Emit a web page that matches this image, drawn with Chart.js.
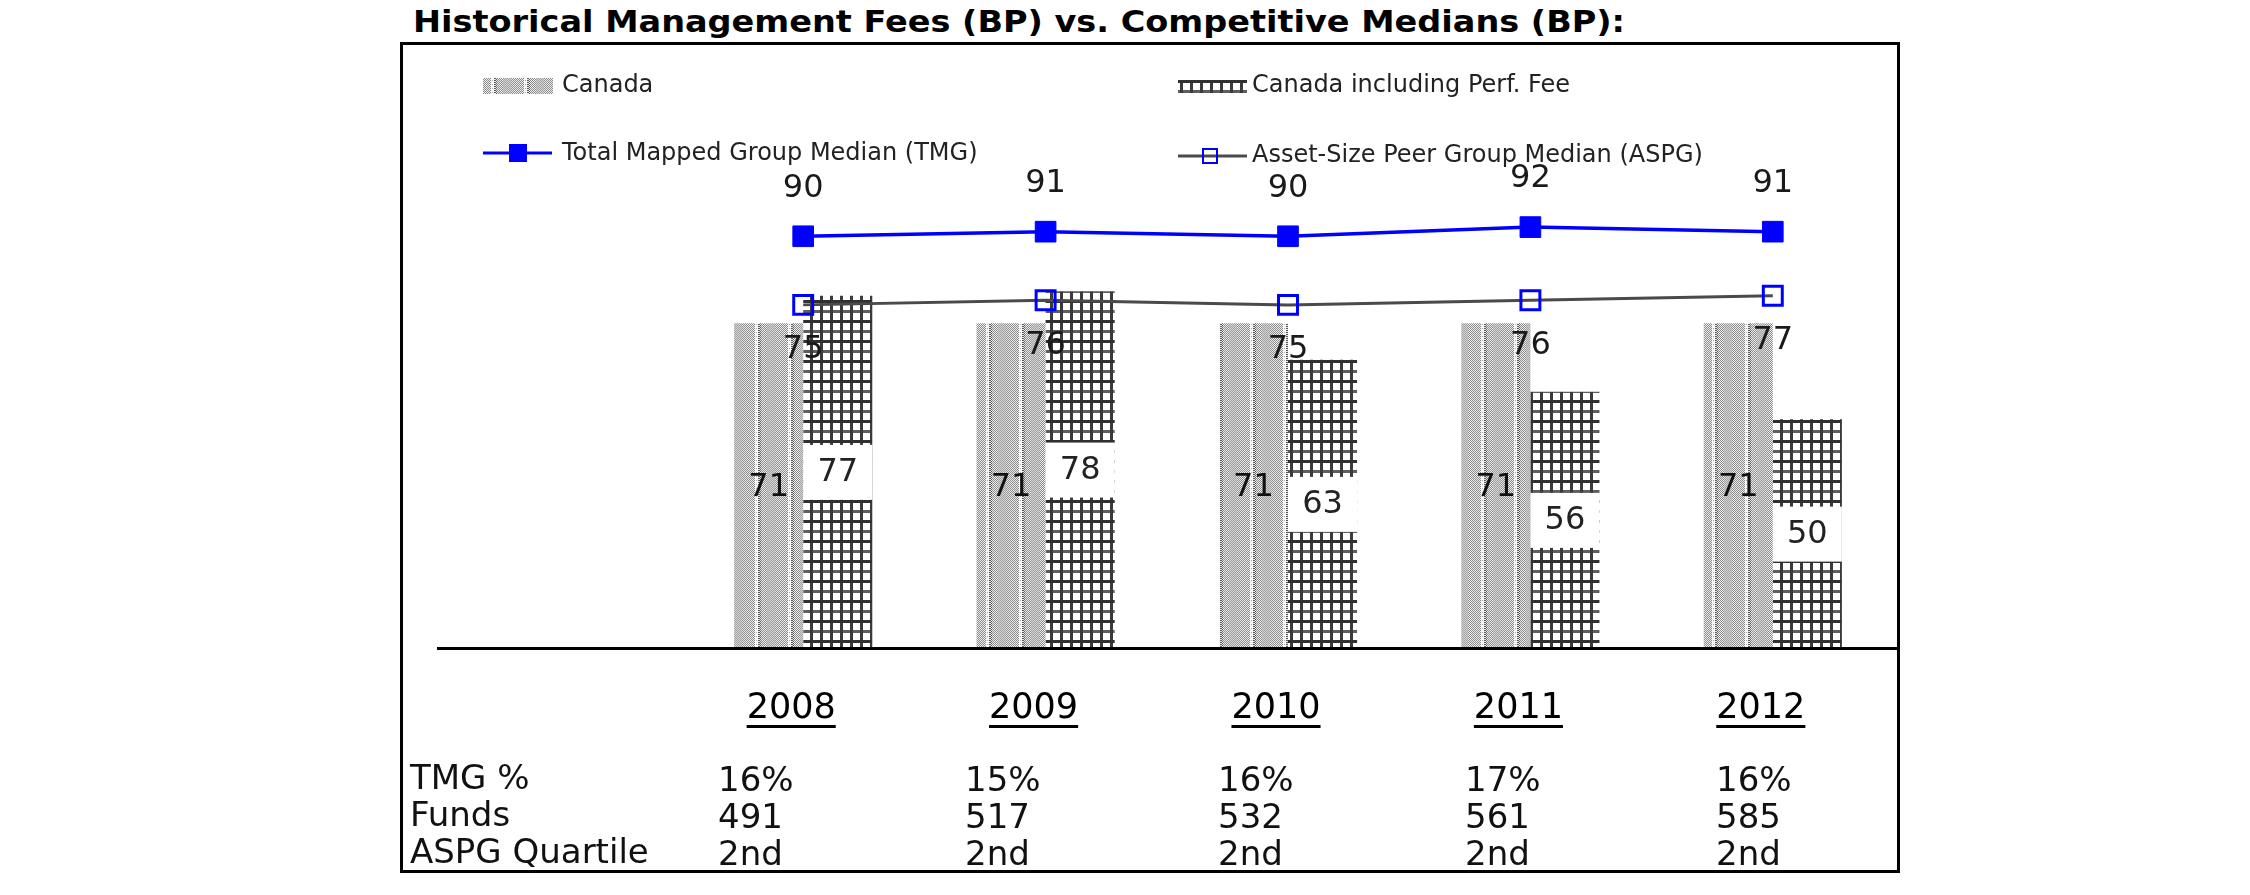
<!DOCTYPE html>
<html>
<head>
<meta charset="utf-8">
<script src="https://cdn.jsdelivr.net/npm/chart.js@4/dist/chart.umd.min.js"></script>
<style>
html,body{margin:0;padding:0;background:#fff;}
#wrap{position:relative;width:2250px;height:895px;overflow:hidden;background:#fff;}
#box{position:absolute;left:400px;top:42px;width:1500px;height:831px;border:3px solid #000;box-sizing:border-box;}
#c{position:absolute;left:0;top:0;}
.t{position:absolute;font-family:"DejaVu Sans",sans-serif;white-space:nowrap;color:#000;}
#title{left:413px;top:6px;font-size:31px;line-height:31px;font-weight:bold;transform-origin:0 50%;}
.row{font-size:34px;line-height:34px;color:#111;}
</style>
</head>
<body>
<div id="wrap">
  <div id="box"></div>
  <div id="title" class="t">Historical Management Fees (BP) vs. Competitive Medians (BP):</div>
  <canvas id="c" width="2250" height="895"></canvas>
  <div id="table"></div>
</div>
<script>
// ---- data ----
const years = ['2008', '2009', '2010', '2011', '2012'];
const canada = [71, 71, 71, 71, 71];
const canadaPerf = [77, 78, 63, 56, 50];
const tmgMedian = [90, 91, 90, 92, 91];
const aspgMedian = [75, 76, 75, 76, 77];
const rowLabels = ['TMG %', 'Funds', 'ASPG Quartile'];
const tmgPct = ['16%', '15%', '16%', '17%', '16%'];
const funds = ['491', '517', '532', '561', '585'];
const aspgQuartile = ['2nd', '2nd', '2nd', '2nd', '2nd'];

// ---- title: stretch to the reference width ----
const titleEl = document.getElementById('title');
const tw = titleEl.getBoundingClientRect().width;
titleEl.style.transform = 'scaleX(' + (1212 / tw) + ')';

// ---- table below the chart (HTML text) ----
const tableRows = [tmgPct, funds, aspgQuartile];
const rowTops = [760, 797, 834];
const colLefts = [718, 965, 1218, 1465, 1716];
const tbl = document.getElementById('table');
rowLabels.forEach((lab, r) => {
  const d = document.createElement('div');
  d.className = 't row';
  d.style.left = '410px';
  d.style.top = rowTops[r] + 'px';
  d.textContent = lab;
  tbl.appendChild(d);
  tableRows[r].forEach((v, i) => {
    const e = document.createElement('div');
    e.className = 't row';
    e.style.left = colLefts[i] + 'px';
    e.style.top = (rowTops[r] + 2) + 'px';
    e.textContent = v;
    tbl.appendChild(e);
  });
});

// ---- patterns ----
function makePatA() {
  const W = 33, H = 8;
  const c = document.createElement('canvas');
  c.width = W; c.height = H;
  const g = c.getContext('2d');
  for (let y = 0; y < H; y++) {
    for (let x = 0; x < W; x++) {
      const dot = (x + y) % 2 === 0;
      let col;
      if (x >= 29 && x < 32) {
        col = dot && (y % 4 === 0) ? '#b0b0b0' : '#f7f7f7';
      } else if (x < 2 || x === 32) {
        col = dot ? '#5a5a5a' : '#e6e6e6';
      } else if (x >= 8 && x < 16) {
        col = dot ? '#a4a4a4' : '#d2d2d2';
      } else {
        col = dot ? '#8a8a8a' : '#eeeeee';
      }
      g.fillStyle = col;
      g.fillRect(x, y, 1, 1);
    }
  }
  return g.createPattern(c, 'repeat');
}
function makePatB() {
  const c = document.createElement('canvas');
  c.width = 10; c.height = 20;
  const g = c.getContext('2d');
  g.fillStyle = '#ffffff'; g.fillRect(0, 0, 10, 20);
  g.fillStyle = '#3a3a3a'; g.fillRect(0, 0, 3, 20);
  g.fillStyle = '#303030'; g.fillRect(0, 0, 10, 3);
  g.fillStyle = '#5e5e5e'; g.fillRect(0, 10, 10, 3);
  g.fillStyle = '#3a3a3a'; g.fillRect(0, 10, 3, 3);
  return g.createPattern(c, 'repeat');
}
const patA = makePatA();
const patB = makePatB();

const FONT = '"DejaVu Sans", sans-serif';
const LABEL_OFFSET = -12;

// ---- plugins ----
const baselinePlugin = {
  id: 'baseline',
  afterDatasetsDraw(chart) {
    const ctx = chart.ctx;
    const y0 = chart.scales.y.getPixelForValue(0);
    ctx.save();
    ctx.fillStyle = '#000';
    ctx.fillRect(437, Math.round(y0) - 1, chart.chartArea.right + 4 - 437, 3);
    ctx.restore();
  }
};

const valueLabels = {
  id: 'valueLabels',
  afterDatasetsDraw(chart) {
    const ctx = chart.ctx;
    ctx.save();
    ctx.textAlign = 'center';
    ctx.textBaseline = 'middle';
    chart.data.datasets.forEach((ds, di) => {
      const meta = chart.getDatasetMeta(di);
      meta.data.forEach((el, i) => {
        const v = ds.data[i];
        if (ds.labelMode === 'above') {
          ctx.font = '32px ' + FONT; ctx.fillStyle = '#1a1a1a';
          ctx.fillText(String(v), el.x, el.y - 48);
        } else if (ds.labelMode === 'below') {
          ctx.font = '32px ' + FONT; ctx.fillStyle = '#1a1a1a';
          ctx.fillText(String(v), el.x, el.y + 45);
        } else if (ds.labelMode === 'mid') {
          ctx.font = '32px ' + FONT; ctx.fillStyle = '#111';
          ctx.fillText(String(v), el.x, (el.y + el.base) / 2 + 2);
        } else if (ds.labelMode === 'midbox') {
          const cy = (el.y + el.base) / 2;
          ctx.fillStyle = '#fff';
          ctx.fillRect(el.x - el.width / 2, cy - 27, el.width, 55);
          ctx.font = '32px ' + FONT; ctx.fillStyle = '#222';
          ctx.fillText(String(v), el.x, cy + 1);
        }
      });
    });
    ctx.restore();
  }
};

const underlinePlugin = {
  id: 'underline',
  afterDraw(chart) {
    const ctx = chart.ctx;
    const xs = chart.scales.x;
    ctx.save();
    ctx.font = '35px ' + FONT;
    ctx.fillStyle = '#000';
    xs.ticks.forEach((t, i) => {
      const lab = chart.data.labels[i];
      const w = ctx.measureText(lab).width;
      const x = xs.getPixelForTick(i) + LABEL_OFFSET;
      ctx.fillRect(x - w / 2, 725, w, 3);
    });
    ctx.restore();
  }
};

const customLegend = {
  id: 'customLegend',
  afterDraw(chart) {
    const ctx = chart.ctx;
    const ds = chart.data.datasets;
    ctx.save();
    ctx.font = '24px ' + FONT;
    ctx.textBaseline = 'middle';
    ctx.textAlign = 'left';
    // Canada
    ctx.fillStyle = patA; ctx.fillRect(483, 78, 70, 16);
    ctx.fillStyle = '#222'; ctx.fillText(ds[2].label, 562, 86);
    // Canada incl perf
    ctx.fillStyle = patB; ctx.fillRect(1178, 80, 69, 13);
    ctx.fillStyle = '#222'; ctx.fillText(ds[3].label, 1252, 86);
    // TMG
    ctx.strokeStyle = '#0000ff'; ctx.lineWidth = 3;
    ctx.beginPath(); ctx.moveTo(483, 153); ctx.lineTo(552, 153); ctx.stroke();
    ctx.fillStyle = '#0000ff'; ctx.fillRect(509, 144, 18, 18);
    ctx.fillStyle = '#222'; ctx.fillText(ds[0].label, 562, 154);
    // ASPG
    ctx.strokeStyle = '#4a4a4a'; ctx.lineWidth = 3;
    ctx.beginPath(); ctx.moveTo(1178, 156); ctx.lineTo(1247, 156); ctx.stroke();
    ctx.strokeStyle = '#0000ff'; ctx.lineWidth = 2;
    ctx.strokeRect(1203, 149, 14, 14);
    ctx.fillStyle = '#222'; ctx.fillText(ds[1].label, 1252, 156);
    ctx.restore();
  }
};

new Chart(document.getElementById('c'), {
  type: 'bar',
  data: {
    labels: years,
    datasets: [
      {
        type: 'line', label: 'Total Mapped Group Median (TMG)', data: tmgMedian,
        borderColor: '#0000ff', borderWidth: 3.5, tension: 0, fill: false,
        pointStyle: 'rect', pointRadius: 14.6, pointBackgroundColor: '#0000ff',
        pointBorderColor: '#0000ff', pointBorderWidth: 1, order: 1, labelMode: 'above'
      },
      {
        type: 'line', label: 'Asset-Size Peer Group Median (ASPG)', data: aspgMedian,
        borderColor: '#4a4a4a', borderWidth: 3, tension: 0, fill: false,
        pointStyle: 'rect', pointRadius: 13.4, pointBackgroundColor: 'rgba(0,0,0,0)',
        pointBorderColor: '#0000ff', pointBorderWidth: 3, order: 1, labelMode: 'below'
      },
      {
        label: 'Canada', data: canada, backgroundColor: patA, borderWidth: 0,
        order: 2, labelMode: 'mid'
      },
      {
        label: 'Canada including Perf. Fee', data: canadaPerf, backgroundColor: patB, borderWidth: 0,
        order: 2, labelMode: 'midbox'
      }
    ]
  },
  options: {
    responsive: false,
    animation: false,
    events: [],
    layout: { padding: { left: 682, right: 356, top: 190.5, bottom: 125 } },
    datasets: { bar: { categoryPercentage: 0.57, barPercentage: 1.0 } },
    plugins: { legend: { display: false }, title: { display: false }, tooltip: { enabled: false } },
    scales: {
      x: {
        offset: true,
        grid: { display: false, drawTicks: false },
        border: { display: false },
        ticks: { font: { family: 'DejaVu Sans', size: 35 }, color: '#000', padding: 40, labelOffset: LABEL_OFFSET }
      },
      y: { display: false, min: 0, max: 100 }
    }
  },
  plugins: [baselinePlugin, valueLabels, underlinePlugin, customLegend]
});
</script>
</body>
</html>
